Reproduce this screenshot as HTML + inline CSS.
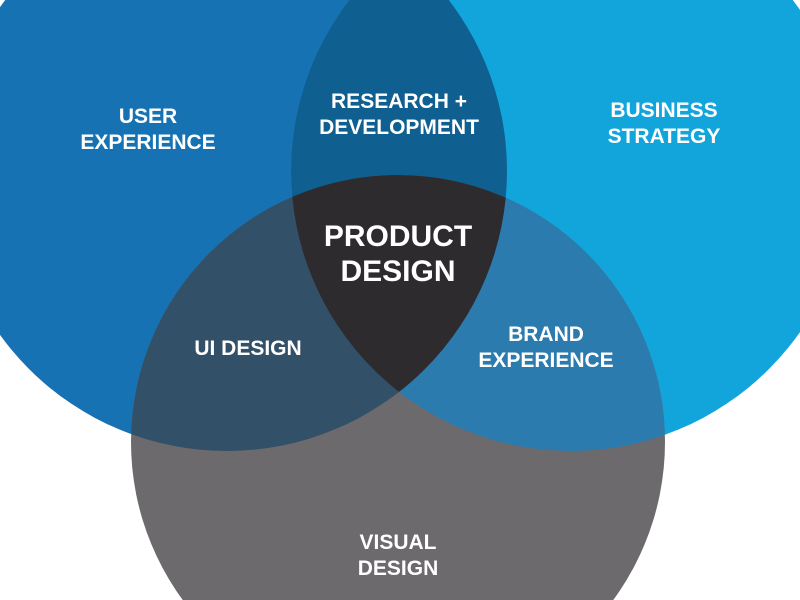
<!DOCTYPE html>
<html><head><meta charset="utf-8"><style>
html,body{margin:0;padding:0;background:#fff;width:800px;height:600px;overflow:hidden;}
svg{display:block}
text{font-family:"Liberation Sans",sans-serif;fill:#fff;text-anchor:middle;}
</style></head><body>
<svg width="800" height="600" viewBox="0 0 800 600" xmlns="http://www.w3.org/2000/svg">
<defs>
<clipPath id="cA"><circle cx="227" cy="171" r="280"/></clipPath>
<clipPath id="cB"><circle cx="571" cy="171" r="280"/></clipPath>
</defs>
<rect width="800" height="600" fill="#fff"/>
<circle cx="227" cy="171" r="280" fill="#1672B2"/>
<circle cx="571" cy="171" r="280" fill="#12A5DB"/>
<circle cx="398" cy="442" r="267" fill="#6C6A6C"/>
<g clip-path="url(#cA)"><circle cx="571" cy="171" r="280" fill="#0F5F90"/></g>
<g clip-path="url(#cA)"><circle cx="398" cy="442" r="267" fill="#325068"/></g>
<g clip-path="url(#cB)"><circle cx="398" cy="442" r="267" fill="#2C7BAE"/></g>
<g clip-path="url(#cA)"><g clip-path="url(#cB)"><circle cx="398" cy="442" r="267" fill="#2D2B2E"/></g></g>
<g font-size="21" font-weight="bold">
<text x="148" y="123">USER</text>
<text x="148" y="149">EXPERIENCE</text>
<text x="399" y="108">RESEARCH +</text>
<text x="399" y="134">DEVELOPMENT</text>
<text x="664" y="117">BUSINESS</text>
<text x="664" y="143">STRATEGY</text>
<text x="248" y="355">UI DESIGN</text>
<text x="546" y="341">BRAND</text>
<text x="546" y="367">EXPERIENCE</text>
<text x="398" y="549">VISUAL</text>
<text x="398" y="575">DESIGN</text>
</g>
<g font-size="30" font-weight="bold">
<text x="398" y="246">PRODUCT</text>
<text x="398" y="281">DESIGN</text>
</g>
</svg>
</body></html>
